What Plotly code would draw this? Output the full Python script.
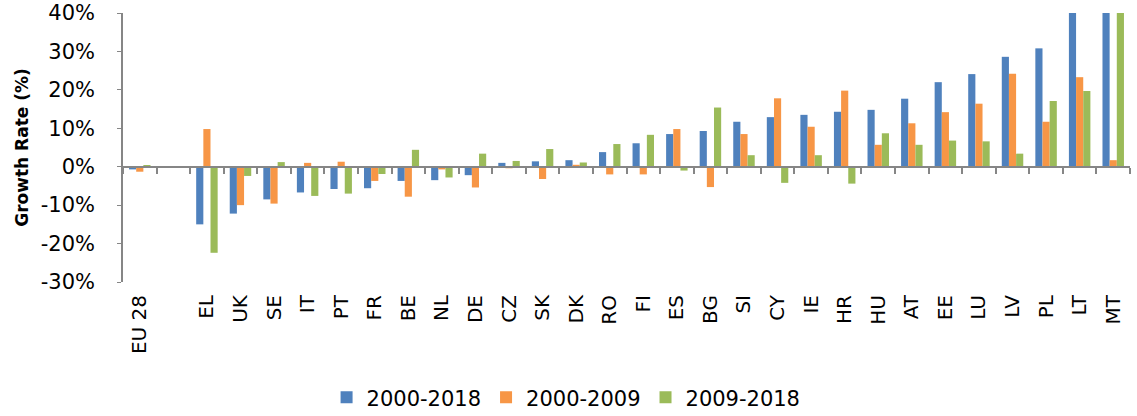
import plotly.graph_objects as go

categories = ["EU 28", " ", "EL", "UK", "SE", "IT", "PT", "FR", "BE", "NL", "DE", "CZ", "SK", "DK",
              "RO", "FI", "ES", "BG", "SI", "CY", "IE", "HR", "HU", "AT", "EE", "LU", "LV", "PL", "LT", "MT"]

g2000_2018 = [-0.7, None, -15.0, -12.2, -8.5, -6.7, -5.8, -5.6, -3.7, -3.5, -2.2, 1.0, 1.4, 1.7,
              3.8, 6.1, 8.5, 9.3, 11.7, 12.9, 13.5, 14.3, 14.8, 17.7, 22.0, 24.1, 28.6, 30.8, 43.0, 50.0]
g2000_2009 = [-1.3, None, 9.8, -10.0, -9.6, 1.0, 1.3, -3.7, -7.8, -0.7, -5.4, -0.4, -3.2, 0.5,
              -2.0, -2.0, 9.8, -5.3, 8.5, 17.8, 10.4, 19.8, 5.7, 11.3, 14.2, 16.4, 24.2, 11.7, 23.3, 1.7]
g2009_2018 = [0.4, None, -22.4, -2.4, 1.2, -7.6, -7.0, -1.9, 4.4, -2.8, 3.4, 1.5, 4.6, 1.1,
              5.9, 8.3, -1.0, 15.4, 3.0, -4.2, 3.0, -4.4, 8.7, 5.7, 6.8, 6.6, 3.4, 17.1, 19.7, 47.0]

series_names = ["2000-2018", "2000-2009", "2009-2018"]
colors = ["#4F81BD", "#F79646", "#9BBB59"]
y_ticks = [-30, -20, -10, 0, 10, 20, 30, 40]

FONT = "DejaVu Sans"
n = len(categories)

fig = go.Figure()
for name, vals, col in zip(series_names, [g2000_2018, g2000_2009, g2009_2018], colors):
    fig.add_trace(go.Bar(x=categories, y=vals, name=name, marker=dict(color=col, line=dict(width=0))))

# invisible trace to drive the zero-line category axis
fig.add_trace(go.Scatter(x=categories, y=[None] * n, xaxis="x2", mode="markers",
                         showlegend=False, hoverinfo="skip"))

fig.update_layout(
    width=1137, height=416,
    margin=dict(l=123, r=7, t=12.5, b=133.5, autoexpand=False),
    paper_bgcolor="white", plot_bgcolor="white",
    barmode="group", bargap=0.36, bargroupgap=0,
    font=dict(family=FONT, color="#000000"),
    xaxis=dict(type="category", categoryorder="array", categoryarray=categories,
               range=[-0.5, n - 0.5], tickangle=-90, showline=False, ticks="",
               showgrid=False, zeroline=False, automargin=False, ticklabelstandoff=8,
               tickfont=dict(size=20, family=FONT)),
    xaxis2=dict(type="category", categoryorder="array", categoryarray=categories,
                range=[-0.5, n - 0.5], overlaying="x", anchor="free", position=3 / 7,
                side="bottom", showline=True, linecolor="#868686", linewidth=2,
                ticks="outside", tickson="boundaries", ticklen=6, tickcolor="#868686",
                tickwidth=1.5, showticklabels=False, showgrid=False, zeroline=False,
                automargin=False),
    yaxis=dict(range=[-30, 40], tickvals=y_ticks, ticktext=[f"{v}%" for v in y_ticks],
               showgrid=False, zeroline=False, showline=True, linecolor="#868686",
               linewidth=1.5, ticks="outside", ticklen=4, tickcolor="#868686",
               ticklabelstandoff=18, automargin=False,
               tickfont=dict(size=21, family=FONT),
               title=dict(text="<b>Growth Rate (%)</b>", font=dict(size=17, family=FONT), standoff=8)),
    legend=dict(orientation="h", x=0.440, xanchor="center", y=-0.43, yanchor="middle",
                font=dict(size=21, family=FONT), traceorder="normal", itemwidth=30),
)

fig.write_html("out.html", config={"displayModeBar": False},
               post_script="document.body.style.margin='0';document.body.style.padding='0';")
